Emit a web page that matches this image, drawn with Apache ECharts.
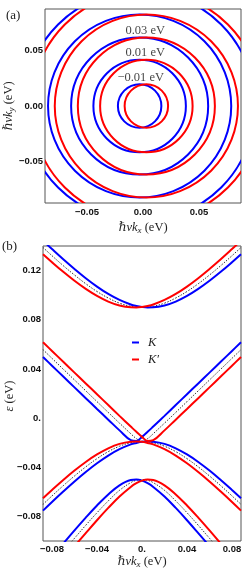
<!DOCTYPE html>
<html><head><meta charset="utf-8">
<script src="https://cdn.jsdelivr.net/npm/echarts@6/dist/echarts.min.js"></script>
<style>html,body{margin:0;padding:0;background:#fff}#c{width:249px;height:582px}</style>
</head><body><div id="c"></div>
<script>
// ---------- Panel (a): constant-energy contours ----------
const contourRadius = [0.0195, 0.0415, 0.0615, 0.0822, 0.1035];   // eV
const centerK  = [-0.003, -0.003, -0.003, -0.003, -0.003];        // kx of K-valley centres
const centerKp = [0.003, 0.003, 0.003, 0.003, 0.003];             // kx of K'-valley centres
const contourLabels = ['0.03 eV', '0.01 eV', '\u22120.01 eV'];
const labelKx = [0.002, 0.002, -0.002];
const labelKy = [0.0675, 0.0485, 0.0255];
const ticksA = [-0.05, 0, 0.05];
const tickLabelsA = ['\u22120.05', '0.00', '0.05'];

// ---------- Panel (b): dispersion along kx ----------
const kx = [-0.088,-0.08,-0.07,-0.06,-0.05,-0.04,-0.03,-0.02,-0.01,-0.005,0,0.005,0.01,0.02,0.03,0.04,0.05,0.06,0.07,0.08,0.088];
const upperK   = [0.1443,0.1375,0.1292,0.1213,0.1138,0.1070,0.1010,0.0961,0.0924,0.0912,0.0904,0.0900,0.0901,0.0916,0.0948,0.0994,0.1051,0.1117,0.1190,0.1268,0.1333];
const upperKp  = [0.1333,0.1268,0.1190,0.1117,0.1051,0.0994,0.0948,0.0916,0.0901,0.0900,0.0904,0.0912,0.0924,0.0961,0.1010,0.1070,0.1138,0.1213,0.1292,0.1375,0.1443];
const upperMid = [0.1388,0.1321,0.1240,0.1164,0.1093,0.1030,0.0977,0.0935,0.0909,0.0902,0.0900,0.0902,0.0909,0.0935,0.0977,0.1030,0.1093,0.1164,0.1240,0.1321,0.1388];
const vK   = [0.0497,0.0426,0.0338,0.0250,0.0162,0.0074,-0.0013,-0.0100,-0.0179,-0.0186,-0.0153,-0.0112,-0.0069,0.0018,0.0106,0.0194,0.0282,0.0370,0.0458,0.0546,0.0617];
const vKp  = [0.0617,0.0546,0.0458,0.0370,0.0282,0.0194,0.0106,0.0018,-0.0069,-0.0112,-0.0153,-0.0186,-0.0179,-0.0100,-0.0013,0.0074,0.0162,0.0250,0.0338,0.0426,0.0497];
const vMid = [0.0557,0.0486,0.0398,0.0310,0.0222,0.0134,0.0046,-0.0041,-0.0127,-0.0167,-0.0190,-0.0167,-0.0127,-0.0041,0.0046,0.0134,0.0222,0.0310,0.0398,0.0486,0.0557];
const humpK   = [-0.0753,-0.0683,-0.0598,-0.0516,-0.0439,-0.0368,-0.0305,-0.0253,-0.0214,-0.0202,-0.0193,-0.0190,-0.0192,-0.0210,-0.0246,-0.0296,-0.0357,-0.0427,-0.0504,-0.0585,-0.0652];
const humpKp  = [-0.0652,-0.0585,-0.0504,-0.0427,-0.0357,-0.0296,-0.0246,-0.0210,-0.0192,-0.0190,-0.0193,-0.0202,-0.0214,-0.0253,-0.0305,-0.0368,-0.0439,-0.0516,-0.0598,-0.0683,-0.0753];
const humpMid = [-0.0702,-0.0633,-0.0550,-0.0471,-0.0397,-0.0330,-0.0273,-0.0229,-0.0200,-0.0193,-0.0190,-0.0193,-0.0200,-0.0229,-0.0273,-0.0330,-0.0397,-0.0471,-0.0550,-0.0633,-0.0702];
const lowK   = [-0.1218,-0.1130,-0.1021,-0.0914,-0.0810,-0.0711,-0.0621,-0.0547,-0.0504,-0.0500,-0.0509,-0.0530,-0.0560,-0.0638,-0.0731,-0.0831,-0.0936,-0.1043,-0.1152,-0.1262,-0.1350];
const lowKp  = [-0.1350,-0.1262,-0.1152,-0.1043,-0.0936,-0.0831,-0.0731,-0.0638,-0.0560,-0.0530,-0.0509,-0.0500,-0.0504,-0.0547,-0.0621,-0.0711,-0.0810,-0.0914,-0.1021,-0.1130,-0.1218];
const lowMid = [-0.1284,-0.1196,-0.1086,-0.0978,-0.0872,-0.0770,-0.0674,-0.0588,-0.0525,-0.0506,-0.0500,-0.0506,-0.0525,-0.0588,-0.0674,-0.0770,-0.0872,-0.0978,-0.1086,-0.1196,-0.1284];
const yTicksB = [-0.08, -0.04, 0, 0.04, 0.08, 0.12];
const yTickLabelsB = ['\u22120.08', '\u22120.04', '0.', '0.04', '0.08', '0.12'];
const xTicksB = [-0.08, -0.04, 0, 0.04, 0.08];
const xTickLabelsB = ['\u22120.08', '\u22120.04', '0.', '0.04', '0.08'];
const legendNames = ['K', 'K\u2032'];
const titleKxA = '{i|\u210Fvk}{s|x}{n| (eV)}';
const titleKyA = '{i|\u210Fvk}{s|y}{n| (eV)}';
const titleKxB = '{i|\u210Fvk}{s|x}{n| (eV)}';
const titleEB  = '{i|\u03B5}{n| (eV)}';

// ---------- styling ----------
const BLUE = '#0000ff', RED = '#ff0000';
const SERIF = '"Liberation Serif","DejaVu Serif",serif';
const SANS = '"Liberation Sans",Arial,sans-serif';

function fmt(vals, labels) {
  return function (v) {
    for (let i = 0; i < vals.length; i++) if (Math.abs(vals[i] - v) < 1e-9) return labels[i];
    return '';
  };
}
const tickLabelStyle = { fontFamily: SANS, fontWeight: 'bold', fontSize: 9.5, color: '#111' };
const rich = {
  i: { fontFamily: SERIF, fontStyle: 'italic', fontSize: 12.5, fill: '#222', color: '#222' },
  s: { fontFamily: SERIF, fontStyle: 'italic', fontSize: 9, fill: '#222', color: '#222', padding: [6, 0, 0, 0] },
  n: { fontFamily: SERIF, fontSize: 12.5, fill: '#222', color: '#222' }
};
function title(text, x, y, rot) {
  return { type: 'text', x: x, y: y, rotation: rot || 0, z: 10,
    style: { text: text, rich: rich, align: 'center', verticalAlign: 'middle', fill: '#222',
             font: '12.5px ' + SERIF } };
}

function circleRender(color) {
  return function (params, api) {
    const c = api.coord([api.value(0), api.value(1)]);
    const s = api.size([api.value(2), api.value(2)]);
    return { type: 'circle', shape: { cx: c[0], cy: c[1], r: (s[0] + s[1]) / 2 },
             style: { fill: 'none', stroke: color, lineWidth: 2 } };
  };
}
const circK = contourRadius.map((r, i) => [centerK[i], 0, r]);
const circKp = contourRadius.map((r, i) => [centerKp[i], 0, r]);

function pts(arr) { return kx.map((k, i) => [k, arr[i]]); }
function bandLine(name, arr, color) {
  return { type: 'line', name: name, xAxisIndex: 1, yAxisIndex: 1, data: pts(arr),
    smooth: 0.4, showSymbol: false, symbol: 'none', clip: true,
    itemStyle: { color: color }, lineStyle: { color: color, width: 2 }, z: 3 };
}
function midLine(arr) {
  return { type: 'line', name: 'mid', xAxisIndex: 1, yAxisIndex: 1, data: pts(arr),
    smooth: 0.4, showSymbol: false, symbol: 'none', clip: true,
    lineStyle: { color: '#333', width: 1, type: [1.5, 1.5] }, z: 2 };
}

const chart = echarts.init(document.getElementById('c'), null, { renderer: 'canvas' });
chart.setOption({
  animation: false,
  backgroundColor: '#fff',
  grid: [
    { left: 45, top: 9, width: 196, height: 194, show: true, borderColor: '#555', borderWidth: 1,
      backgroundColor: 'transparent', containLabel: false, outerBoundsMode: 'none' },
    { left: 43, top: 246, width: 198, height: 295, show: true, borderColor: '#555', borderWidth: 1,
      backgroundColor: 'transparent', containLabel: false, outerBoundsMode: 'none' }
  ],
  xAxis: [
    { type: 'value', gridIndex: 0, min: -0.0875, max: 0.0875,
      axisLine: { show: false }, axisTick: { show: false }, splitLine: { show: false },
      axisLabel: Object.assign({ customValues: ticksA, formatter: fmt(ticksA, tickLabelsA), margin: 4 }, tickLabelStyle) },
    { type: 'value', gridIndex: 1, min: -0.088, max: 0.088,
      axisLine: { show: false }, axisTick: { show: false }, splitLine: { show: false },
      axisLabel: Object.assign({ customValues: xTicksB, formatter: fmt(xTicksB, xTickLabelsB), margin: 3 }, tickLabelStyle) }
  ],
  yAxis: [
    { type: 'value', gridIndex: 0, min: -0.0875, max: 0.0875,
      axisLine: { show: false }, axisTick: { show: false }, splitLine: { show: false },
      axisLabel: Object.assign({ customValues: ticksA, formatter: fmt(ticksA, tickLabelsA), margin: 2 }, tickLabelStyle) },
    { type: 'value', gridIndex: 1, min: -0.1, max: 0.14,
      axisLine: { show: false }, axisTick: { show: false }, splitLine: { show: false },
      axisLabel: Object.assign({ customValues: yTicksB, formatter: fmt(yTicksB, yTickLabelsB), margin: 2 }, tickLabelStyle) }
  ],
  legend: {
    data: legendNames, orient: 'vertical', left: 127, top: 331, itemGap: 4,
    icon: 'rect', itemWidth: 7, itemHeight: 2, selectedMode: false,
    textStyle: { fontFamily: SERIF, fontStyle: 'italic', fontSize: 12.5, color: '#222', padding: [0, 0, 0, 4] }
  },
  graphic: [
    { type: 'text', left: 6, top: 9, style: { text: '(a)', font: '13px ' + SERIF, fill: '#222' } },
    { type: 'text', left: 2, top: 240, style: { text: '(b)', font: '13px ' + SERIF, fill: '#222' } },
    title(titleKxA, 143, 228, 0),
    title(titleKyA, 9, 106, Math.PI / 2),
    title(titleKxB, 142, 562, 0),
    title(titleEB, 10, 396, Math.PI / 2)
  ],
  series: [
    { type: 'custom', name: 'Ka', xAxisIndex: 0, yAxisIndex: 0, data: circK, clip: true,
      renderItem: circleRender(BLUE), encode: { x: 0, y: 1 }, z: 3 },
    { type: 'custom', name: 'Kpa', xAxisIndex: 0, yAxisIndex: 0, data: circKp, clip: true,
      renderItem: circleRender(RED), encode: { x: 0, y: 1 }, z: 3 },
    { type: 'scatter', name: 'labels', xAxisIndex: 0, yAxisIndex: 0, symbolSize: 0, z: 5,
      data: contourLabels.map((t, i) => ({ value: [labelKx[i], labelKy[i]], name: t })),
      label: { show: true, position: 'inside', formatter: p => p.name,
               fontFamily: SERIF, fontSize: 12.5, color: '#111' } },
    midLine(upperMid), midLine(vMid), midLine(humpMid), midLine(lowMid),
    bandLine(legendNames[0], upperK, BLUE), bandLine(legendNames[0], vK, BLUE),
    bandLine(legendNames[0], humpK, BLUE), bandLine(legendNames[0], lowK, BLUE),
    bandLine(legendNames[1], upperKp, RED), bandLine(legendNames[1], vKp, RED),
    bandLine(legendNames[1], humpKp, RED), bandLine(legendNames[1], lowKp, RED)
  ]
});
</script></body></html>
